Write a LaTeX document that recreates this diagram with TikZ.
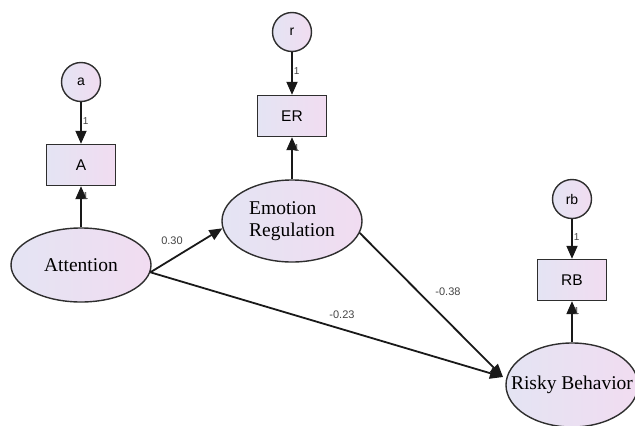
\documentclass[tikz,border=0pt]{standalone}
\usepackage{fontspec}
\setmainfont{Liberation Serif}
\setsansfont{Liberation Sans}
\usetikzlibrary{shapes.geometric,arrows.meta}
\definecolor{lavL}{HTML}{E4E4F3}
\definecolor{lavR}{HTML}{F1DCF1}
\definecolor{edge}{HTML}{2E2E2E}
\definecolor{lbl}{HTML}{444444}
\tikzset{
  shade lav/.style={left color=lavL,right color=lavR,draw=edge,line width=1.4pt},
  latent/.style={ellipse,shade lav,inner sep=0pt,font=\fontsize{19.5}{22}\selectfont,align=left},
  observed/.style={rectangle,shade lav,minimum width=69pt,minimum height=41pt,inner sep=0pt,font=\sffamily\fontsize{15.5}{18}\selectfont},
  errc/.style={circle,shade lav,minimum size=39pt,inner sep=0pt,font=\sffamily\fontsize{14}{16}\selectfont},
  path/.style={line width=1.8pt,draw=black!90,-{Triangle[length=13pt,width=11pt]}},
  coef/.style={font=\sffamily\fontsize{11}{13}\selectfont,text=lbl,inner sep=1pt},
  one/.style={font=\sffamily\fontsize{10}{12}\selectfont,text=lbl,inner sep=1pt}
}
\begin{document}
\begin{tikzpicture}[x=1pt,y=-1pt]
\useasboundingbox (0,0) rectangle (635,426);
% left column
\node[errc] (ea) at (81,82) {a};
\node[observed] (A) at (81,165) {A};
\node[latent,minimum width=140pt,minimum height=74pt] (att) at (81,265) {Attention};
% middle column
\node[errc] (er) at (292,32) {r};
\node[observed] (ER) at (292,116) {ER};
\node[latent,minimum width=140pt,minimum height=82pt] (emo) at (292,221) {Emotion\\Regulation};
% right column
\node[errc] (erb) at (572,199) {rb};
\node[observed] (RB) at (572,280) {RB};
\node[latent,minimum width=132pt,minimum height=84pt] (risk) at (572,385) {\makebox[80pt][c]{Risky Behavior}};
% measurement paths
\draw[path] (ea) -- node[one,right,pos=0.45]{1} (A);
\draw[path] (att) -- node[one,right,pos=0.75]{1} (A);
\draw[path] (er) -- node[one,right,pos=0.45]{1} (ER);
\draw[path] (emo) -- node[one,right,pos=0.75]{1} (ER);
\draw[path] (erb) -- node[one,right,pos=0.45]{1} (RB);
\draw[path] (risk) -- node[one,right,pos=0.75]{1} (RB);
% structural paths
\coordinate (attout) at (att.-6);
\coordinate (tip) at (503,377);
\draw[path] (attout) -- (emo.186);
\draw[path] (attout) -- (tip);
\draw[path] (emo.-10) -- (tip);
\node[coef] (c1) at (172,241) {0.30};
\node[coef] (c2) at (342,315) {-0.23};
\node[coef] (c3) at (448,292) {-0.38};
\end{tikzpicture}
\end{document}
